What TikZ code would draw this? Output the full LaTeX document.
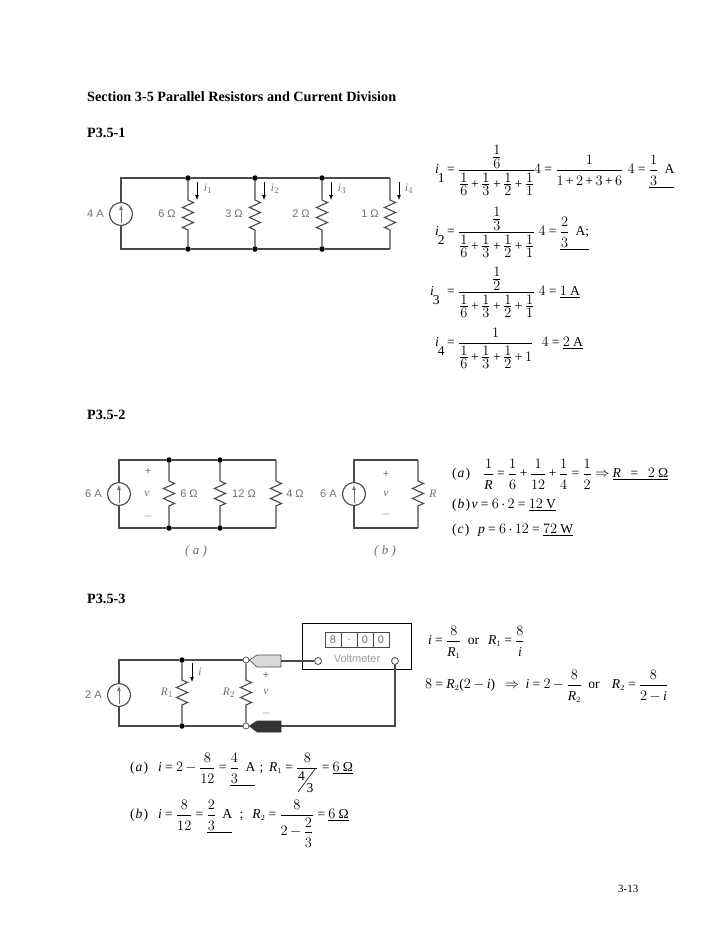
\documentclass[tikz,border=0pt]{standalone}
\usepackage{amsmath}
\usepackage{fontspec}
\setmainfont{Liberation Serif}
\newfontfamily\lblfont{Liberation Sans}
\DeclareSymbolFont{letters}{TU}{\rmdefault}{m}{it}
\AtBeginDocument{%
	\DeclareMathSymbol{+}{\mathbin}{operators}{43}%
	\DeclareMathSymbol{=}{\mathrel}{operators}{61}%
	\DeclareMathSymbol{(}{\mathopen}{operators}{40}%
	\DeclareMathSymbol{)}{\mathclose}{operators}{41}%
	\DeclareMathSymbol{;}{\mathpunct}{operators}{59}%
}
\DeclareMathSizes{13.6}{13.6}{8.5}{7}
\DeclareMathSizes{11}{11.5}{9.5}{7}
\medmuskip=3mu
\thickmuskip=4mu
\usetikzlibrary{positioning,decorations.pathmorphing}
\newcommand{\dropsub}[1]{\hspace{-1pt}\raisebox{-9pt}{#1}}
\newcommand{\frx}[4]{{\textstyle\frac{\textstyle\rule[-#1]{0pt}{#1}#3}{\textstyle\rule{0pt}{#2}#4}}}
\newcommand{\fr}[2]{\frx{4pt}{14.5pt}{#1}{#2}}
\newcommand{\frs}[2]{\frx{1.5pt}{10.5pt}{#1}{#2}}
\newcommand{\ohm}{\mbox{Ω}}
\definecolor{wirecol}{HTML}{4A4A4A}
\definecolor{lblcol}{HTML}{707070}
\begin{document}
\begin{tikzpicture}
	[   x=1pt,y=-1pt,
		wire/.style={draw=wirecol,line width=1.1pt},
		zig/.style={decoration={zigzag,amplitude=5.5pt,segment length=9.99pt}},
		jdot/.style={circle,fill=black,minimum size=5.5pt,inner sep=0pt},
		odot/.style={circle,draw=wirecol,fill=white,line width=0.7pt,minimum size=6pt,inner sep=0pt},
		src/.style={circle,draw=wirecol,fill=white,line width=1.1pt,minimum size=23pt,inner sep=0pt},
		lbl/.style={inner sep=0pt,text=lblcol,font=\lblfont\fontsize{11}{13}\selectfont},
		head/.style={anchor=base west,inner sep=0pt,font=\bfseries\fontsize{14.2}{16}\selectfont},
		eqn/.style={anchor=base west,inner sep=0pt,font=\fontsize{13.6}{16}\selectfont},
	]
	\tikzset{normal arrow/.style={draw,-latex,line width=0.7pt},
		src arrow/.style={draw=lblcol,-latex,line width=0.7pt,shorten <=3pt,shorten >=3pt}}
	\useasboundingbox (0,0) rectangle (728,943);
	
	% page headings
	\node[head] (title) at (87,101) {Section 3-5 Parallel Resistors and Current Division};
	\node[head] (pa) at (87,137) {P3.5-1};
	\node[head] (pb) at (87,419) {P3.5-2};
	\node[head] (pc) at (87,603) {P3.5-3};
	\node[eqn,font=\fontsize{11}{14}\selectfont] (pageno) at (618,892) {3-13};
	
	% circuit of P3.5-1
	\node[src] (sa) at (121,214) {};
	\path[src arrow] (sa.south) -- (sa.north);
	\node[lbl,left=5pt of sa] (sal) {4 A};
	\foreach \x/\n/\r in {188/1/6,255/2/3,322/3/2}
	{
		\node[jdot] (ta\n) at (\x,178) {};
		\node[jdot] (ba\n) at (\x,249) {};
		\coordinate (ra\n) at (\x,200);
		\coordinate (rb\n) at (\x,230);
		\draw[wire,zig] (ta\n) -- (ra\n) decorate {-- (rb\n)} -- (ba\n);
		\node[lbl] (ral\n) at (\x-21,214) {\r\ Ω};
		\coordinate (ca\n) at (\x+9,182);
		\coordinate (cb\n) at (\x+9,200);
		\path[normal arrow] (ca\n) -- (cb\n);
		\node[lbl] (cl\n) at (\x+20,189) {$i_{\n}$};
	}
	\coordinate (ta4) at (390,178);
	\coordinate (ba4) at (390,249);
	\coordinate (ra4) at (390,200);
	\coordinate (rb4) at (390,230);
	\coordinate (ca4) at (399,182);
	\coordinate (cb4) at (399,200);
	\path[normal arrow] (ca4) -- (cb4);
	\node[lbl] (cl4) at (409,189) {$i_{4}$};
	\node[lbl] (ral4) at (370,214) {1 Ω};
	\draw[wire,zig] (ta4) -- (ra4) decorate {-- (rb4)} -- (ba4);
	\draw[wire] (sa.north) |- (ta1) -- (ta2) -- (ta3) -- (ta4);
	\draw[wire] (sa.south) |- (ba1) -- (ba2) -- (ba3) -- (ba4);
	
	% equations of P3.5-1
	\node[eqn] (eqa) at (435,173.4) {$i\dropsub{1}$};
	\node[eqn] (eqas) at (447,173.4) {$=\frx{8.5pt}{17.5pt}{\frs{1}{6}}{\frs{1}{6}+\frs{1}{3}+\frs{1}{2}+\frs{1}{1}}$};
	\node[eqn] (eqat) at (534,173.4) {$4=\fr{1}{1+2+3+6}$};
	\node[eqn] (eqau) at (627.5,173.4) {$4=\underline{\fr{1}{3}\;\;\mbox{A}}$};
	\node[eqn] (eqb) at (435,235.4) {$i\dropsub{2}$};
	\node[eqn] (eqbs) at (447,235.4) {$=\frx{8.5pt}{17.5pt}{\frs{1}{3}}{\frs{1}{6}+\frs{1}{3}+\frs{1}{2}+\frs{1}{1}}$};
	\node[eqn] (eqbt) at (538.5,235.4) {$4=\underline{\fr{2}{3}\;\;\mbox{A;}}$};
	\node[eqn] (eqc) at (430,295.4) {$i\dropsub{3}$};
	\node[eqn] (eqcs) at (447,295.4) {$=\frx{8.5pt}{17.5pt}{\frs{1}{2}}{\frs{1}{6}+\frs{1}{3}+\frs{1}{2}+\frs{1}{1}}$};
	\node[eqn] (eqct) at (538.5,295.4) {$4=\underline{1\;\mbox{A}}$};
	\node[eqn] (eqd) at (435,346.4) {$i\dropsub{4}$};
	\node[eqn] (eqds) at (447,346.4) {$=\frx{4pt}{17.5pt}{1}{\frs{1}{6}+\frs{1}{3}+\frs{1}{2}+1}$};
	\node[eqn] (eqdt) at (541.5,346.4) {$4=\underline{2\;\mbox{A}}$};
	
	% circuit (a) of P3.5-2
	\node[src] (sb) at (119,494) {};
	\path[src arrow] (sb.south) -- (sb.north);
	\node[lbl,left=5pt of sb] (sbl) {6 A};
	\foreach \x/\n/\r/\o in {169/1/6/20,220/2/12/24}
	{
		\node[jdot] (tb\n) at (\x,460) {};
		\node[jdot] (bb\n) at (\x,528) {};
		\coordinate (rc\n) at (\x,481);
		\coordinate (rd\n) at (\x,509);
		\draw[wire,zig] (tb\n) -- (rc\n) decorate {-- (rd\n)} -- (bb\n);
		\node[lbl] (rbl\n) at (\x+\o,494) {\r\ Ω};
	}
	\coordinate (tb3) at (276,460);
	\coordinate (bb3) at (276,528);
	\coordinate (rc3) at (276,481);
	\coordinate (rd3) at (276,509);
	\draw[wire,zig] (tb3) -- (rc3) decorate {-- (rd3)} -- (bb3);
	\node[lbl] (rbl3) at (295,494) {4 Ω};
	\draw[wire] (sb.north) |- (tb1) -- (tb2) -- (tb3);
	\draw[wire] (sb.south) |- (bb1) -- (bb2) -- (bb3);
	\node[lbl] (vbp) at (148,471) {+};
	\node[lbl] (vbv) at (147,494) {$v$};
	\node[lbl] (vbm) at (148,516) {$-$};
	\node[inner sep=0pt,text=lblcol,font=\fontsize{13}{15}\selectfont\itshape] (capa) at (196,551) {( a )};
	
	% circuit (b) of P3.5-2
	\node[src] (sc) at (354,494) {};
	\path[src arrow] (sc.south) -- (sc.north);
	\node[lbl,left=5pt of sc] (scl) {6 A};
	\coordinate (tc) at (418,460);
	\coordinate (bc) at (418,528);
	\coordinate (re) at (418,481);
	\coordinate (rf) at (418,509);
	\draw[wire,zig] (tc) -- (re) decorate {-- (rf)} -- (bc);
	\draw[wire] (sc.north) |- (tc);
	\draw[wire] (sc.south) |- (bc);
	\node[lbl] (rcl) at (433,494) {$R$};
	\node[lbl] (vcp) at (386,474) {+};
	\node[lbl] (vcv) at (386,494) {$v$};
	\node[lbl] (vcm) at (386,514) {$-$};
	\node[inner sep=0pt,text=lblcol,font=\fontsize{13}{15}\selectfont\itshape] (capb) at (385,551) {( b )};
	
	% equations of P3.5-2
	\node[eqn] (eqe) at (452,477.4) {$(\kern1pt a\kern1pt)$};
	\node[eqn] (eqf) at (483,477.4) {$\fr{1}{R}=\fr{1}{6}+\fr{1}{12}+\fr{1}{4}=\fr{1}{2}\Rightarrow\underline{R\;\;=\;\;2\;\ohm}$};
	\node[eqn] (eqg) at (452,508) {$(\kern1pt b\kern1pt)$};
	\node[eqn] (eqh) at (471.5,508) {$v=6\cdot2=\underline{12\;\mbox{V}}$};
	\node[eqn] (eqi) at (452,533) {$(\kern1pt c\kern1pt)$};
	\node[eqn] (eqj) at (478,533) {$p=6\cdot12=\underline{72\;\mbox{W}}$};
	
	% circuit and voltmeter of P3.5-3
	\node[src] (sd) at (119,695) {};
	\path[src arrow] (sd.south) -- (sd.north);
	\node[lbl,left=5pt of sd] (sdl) {2 A};
	\node[jdot] (td) at (182,660) {};
	\node[jdot] (bd) at (182,726) {};
	\node[odot] (tm) at (246,660) {};
	\node[odot] (bm) at (246,726) {};
	\coordinate (rg) at (182,680);
	\coordinate (rh) at (182,708);
	\coordinate (ri) at (246,680);
	\coordinate (rj) at (246,708);
	\draw[wire,zig] (td) -- (rg) decorate {-- (rh)} -- (bd);
	\draw[wire,zig] (tm) -- (ri) decorate {-- (rj)} -- (bm);
	\draw[wire] (sd.north) |- (td) -- (tm);
	\draw[wire] (sd.south) |- (bd) -- (bm);
	\node[lbl] (rgl) at (167,693) {$R_1$};
	\node[lbl] (ril) at (229,693) {$R_2$};
	\coordinate (ce) at (192,663);
	\coordinate (cf) at (192,682);
	\path[normal arrow] (ce) -- (cf);
	\node[lbl] (cel) at (200,672) {$i$};
	\node[lbl] (vdp) at (266,675) {+};
	\node[lbl] (vdv) at (266,692) {$v$};
	\node[lbl] (vdm) at (266,713) {$-$};
	\node[draw=black,line width=0.8pt,minimum width=109pt,minimum height=46pt,inner sep=0pt] (meter) at (356.5,646) {};
	\foreach \x/\d in {333/8,349/.,365/0,381/0}
		\node[draw=wirecol,line width=0.5pt,minimum width=16pt,minimum height=15pt,inner sep=0pt,text=lblcol,font=\lblfont\fontsize{11}{12}\selectfont] (digit\x) at (\x,639.5) {\d};
	\node[lbl,font=\lblfont\fontsize{11}{12}\selectfont,text=lblcol!70] (mname) at (357,659) {Voltmeter};
	\node[circle,draw=wirecol,fill=white,line width=0.8pt,minimum size=7pt,inner sep=0pt] (ta) at (318,661) {};
	\node[circle,draw=wirecol,fill=white,line width=0.8pt,minimum size=7pt,inner sep=0pt] (tb) at (395,661) {};
	\coordinate (pa) at (281,661);
	\coordinate (pb) at (281,726);
	\draw[wire] (pa) -- (ta);
	\draw[wire] (pb) -| (tb);
	\filldraw[draw=wirecol,fill=black!15,line width=0.6pt] (tm.east) -- (257,655) -- (281,655) -- (281,667) -- (257,667) -- cycle;
	\filldraw[draw=black!80,fill=black!80,line width=0.6pt] (bm.east) -- (257,721) -- (281,721) -- (281,732) -- (257,732) -- cycle;
	
	% equations of P3.5-3
	\node[eqn] (eqk) at (428,644.4) {$i=\fr{8}{R_1}\;\;\mbox{or}\;\;\,R_1=\fr{8}{i}$};
	\node[eqn] (eql) at (425,688.4) {$8=R_2(2-i)\;\;\Rightarrow\;i=2-\fr{8}{R_2}\;\;\mbox{or}\;\;\;\,R_2=\fr{8}{2-i}$};
	\node[eqn] (eqm) at (130,771.4) {$(\kern1pt a\kern1pt)$};
	\node[eqn] (eqn) at (158,771.4) {$i=2-\fr{8}{12}=\underline{\fr{4}{3}\;\;\mbox{A}}$};
	\node[eqn] (eqna) at (259.5,771.4) {$;\;R_1=\fr{8}{\hspace{20pt}}=\underline{6\;\ohm}$};
	\node[eqn] (dfour) at (298,780.5) {4};
	\node[eqn] (dthree) at (306.5,792) {3};
	\coordinate (sla) at (298,792);
	\coordinate (slb) at (315,769);
	\draw[line width=0.6pt] (sla) -- (slb);
	\node[eqn] (eqo) at (130,818.4) {$(\kern1pt b\kern1pt)$};
	\node[eqn] (eqp) at (158,818.4) {$i=\fr{8}{12}=\underline{\fr{2}{3}\;\;\mbox{A}}$};
	\node[eqn] (eqpa) at (239.5,818.4) {$;\;\;R_2=\frx{4pt}{20pt}{8}{2-\fr{2}{3}}=\underline{6\;\ohm}$};
\end{tikzpicture}
\end{document}
